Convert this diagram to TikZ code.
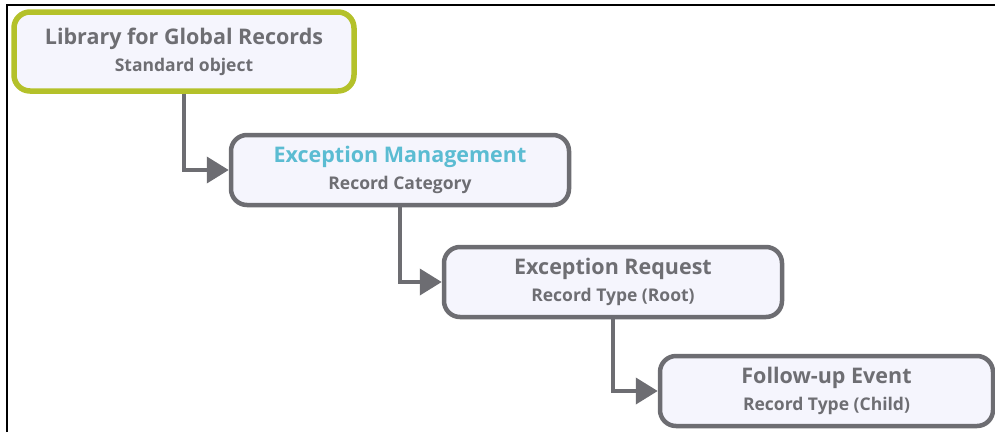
\documentclass[tikz,border=0pt]{standalone}
\usepackage{fontspec}
\setmainfont{Open Sans}
\usetikzlibrary{arrows.meta}
\definecolor{boxgray}{HTML}{6D6D72}
\definecolor{txtgray}{HTML}{6E6E73}
\definecolor{libgreen}{HTML}{B4C12A}
\definecolor{mgmtcyan}{HTML}{5BBCD2}
\definecolor{boxfill}{HTML}{F5F5FD}
\newcommand{\ttl}{\fontsize{21.5}{27}\selectfont\bfseries}
\newcommand{\sbt}{\fontsize{17.5}{27}\selectfont\bfseries}
\tikzset{
  recbox/.style={draw=boxgray, fill=boxfill, line width=4.5pt, rounded corners=16pt,
    minimum width=338pt, minimum height=70pt, inner sep=0pt, align=center,
    text=txtgray, font=\ttl},
  libbox/.style={recbox, draw=libgreen, line width=5.5pt, minimum width=340pt, minimum height=79pt},
  conn/.style={draw=boxgray, line width=4pt, -{Triangle[length=22pt,width=26pt]}}
}
\begin{document}
\begin{tikzpicture}[x=1pt,y=-1pt]
\useasboundingbox (0,0) rectangle (995,432);
\draw[line width=2pt] (7,432) -- (7,5) -- (996,5);
\node[libbox] (lib) at (184,51.5) {\ttl Library for Global Records\\\sbt Standard object};
\node[recbox] (mgmt) at (400,170) {\ttl\color{mgmtcyan}Exception Management\\\sbt Record Category};
\node[recbox] (req) at (613,282) {\ttl Exception Request\\\sbt Record Type (Root)};
\node[recbox, minimum width=333pt] (evt) at (826.5,391) {\ttl Follow-up Event\\\sbt Record Type (Child)};
\draw[conn] (lib.south) |- (mgmt.west);
\draw[conn] (mgmt.south) |- (req.west);
\draw[conn] (req.south) |- (evt.west);
\end{tikzpicture}
\end{document}
